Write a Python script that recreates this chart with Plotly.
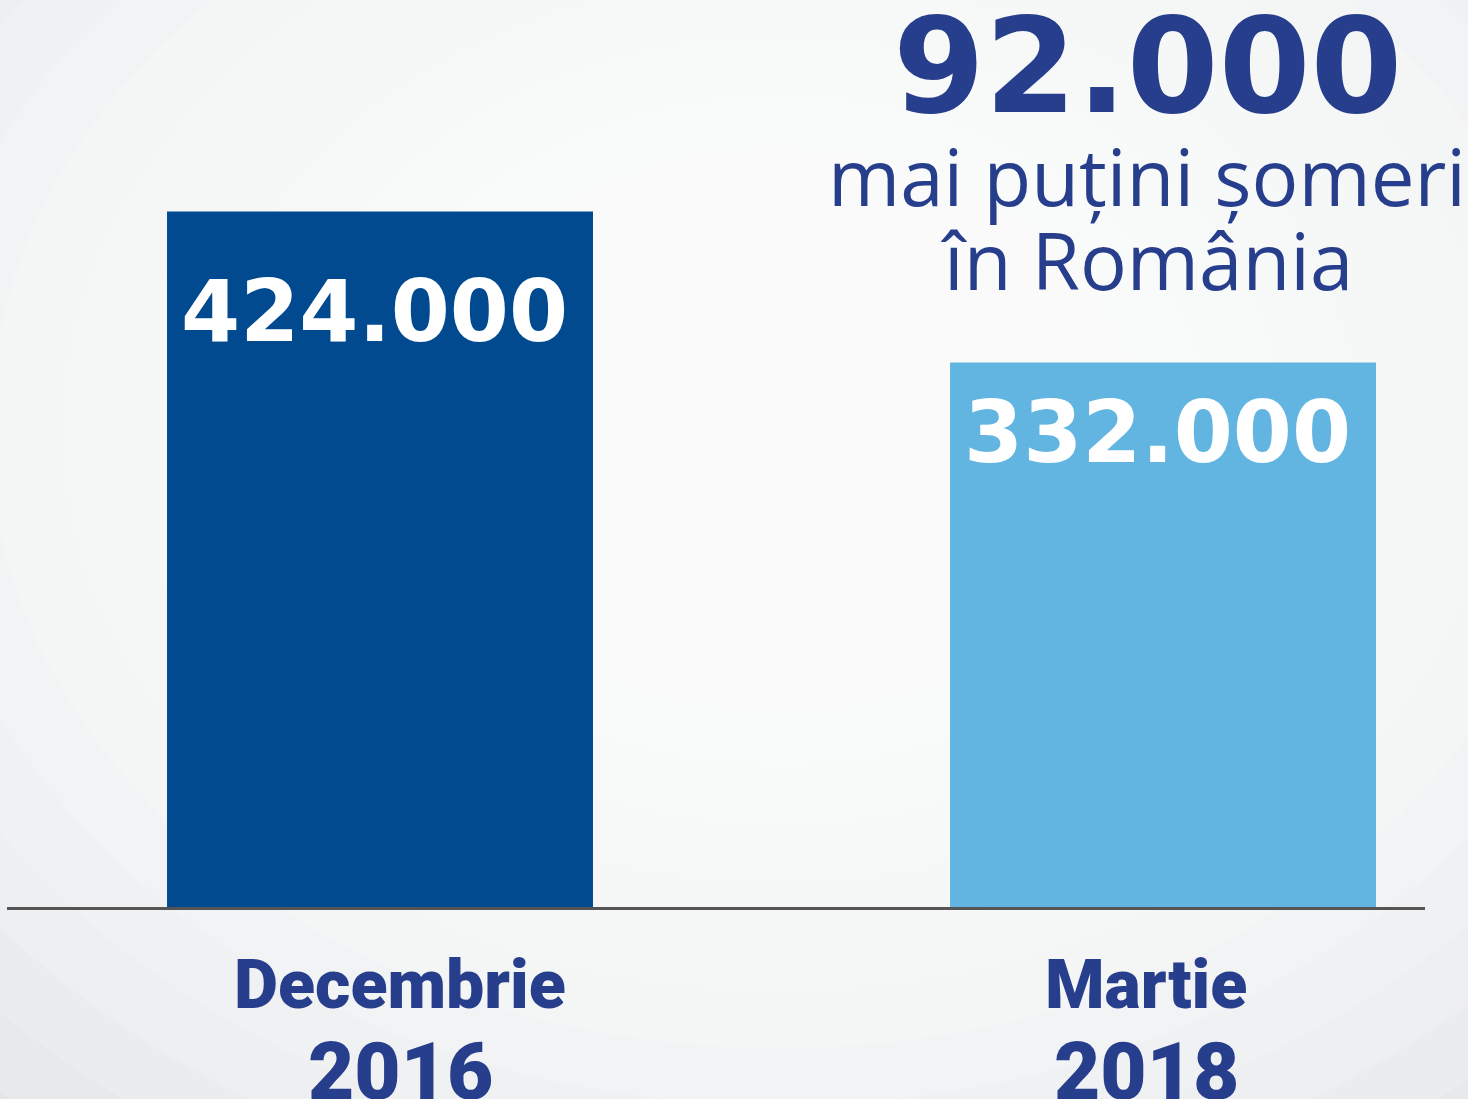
import plotly.graph_objects as go

# data
months = ["Decembrie", "Martie"]
years = ["2016", "2018"]
unemployed = [424000, 332000]
bar_colors = ["#024a8f", "#62b5e0"]
headline_lines = ["mai puțini șomeri", "în România"]

NAVY = "#263e8c"
W, H = 1468, 1099
PLOT_BOTTOM = 907  # px from top where the baseline sits


def fmt(v):
    return f"{v:,}".replace(",", ".")


def py(px_from_top):
    # convert pixel row to paper y (plot area spans 0..PLOT_BOTTOM)
    return 1 - px_from_top / PLOT_BOTTOM


categories = [f"{m} {y}" for m, y in zip(months, years)]

fig = go.Figure(go.Bar(
    x=categories, y=unemployed,
    marker=dict(color=bar_colors, line=dict(width=0)),
    width=0.544, hoverinfo="skip",
))

# soft radial background
shapes = []
cx, cy = 780, 430
n = 16
for i in range(n):
    f = 1 - i / n
    rx, ry = 1150 * f, 900 * f
    shapes.append(dict(
        type="circle", xref="paper", yref="paper", layer="below",
        x0=(cx - rx) / W, x1=(cx + rx) / W,
        y0=py(cy + ry), y1=py(cy - ry),
        fillcolor="rgba(255,255,255,0.16)", line=dict(width=0),
    ))

annotations = []
heavy = "DejaVu Sans"
label_font = "Roboto"
# value labels inside bars
value_shift = [-48, -19]
for c, v, s in zip(categories, unemployed, value_shift):
    annotations.append(dict(
        x=c, y=v, xref="x", yref="y", text=fmt(v), showarrow=False,
        xanchor="center", yanchor="top", yshift=s, xshift=-6,
        font=dict(family=heavy, size=85, color="white", weight="bold"),
    ))

# month / year labels under the axis
label_shift = [20, -17]
for c, m, yr, s in zip(categories, months, years, label_shift):
    annotations.append(dict(
        x=c, y=py(985), xref="x", yref="paper", text=m, showarrow=False,
        xshift=s, xanchor="center", yanchor="middle",
        font=dict(family=label_font, size=68, color=NAVY, weight=900),
    ))
    annotations.append(dict(
        x=c, y=py(1072), xref="x", yref="paper", text=yr, showarrow=False,
        xshift=s, xanchor="center", yanchor="middle",
        font=dict(family=label_font, size=80, color=NAVY, weight=900),
    ))

# headline: difference between the two months
hx = 1147 / W
annotations.append(dict(
    x=hx, y=py(66), xref="paper", yref="paper",
    text=fmt(unemployed[0] - unemployed[1]), showarrow=False,
    xanchor="center", yanchor="middle",
    font=dict(family=heavy, size=132, color=NAVY, weight="bold"),
))
for line, ypx in zip(headline_lines, [176, 260]):
    annotations.append(dict(
        x=hx, y=py(ypx), xref="paper", yref="paper", text=line,
        showarrow=False, xanchor="center", yanchor="middle",
        font=dict(family="Open Sans", size=78, color=NAVY),
    ))

x0, x1 = 7, 1425
unit = 783
xmin = -(380 - x0) / unit
xmax = xmin + (x1 - x0) / unit

fig.update_layout(
    width=W, height=H,
    margin=dict(l=0, r=0, t=0, b=H - PLOT_BOTTOM),
    paper_bgcolor="#e3e5e8", plot_bgcolor="rgba(0,0,0,0)",
    showlegend=False,
    shapes=shapes, annotations=annotations,
    xaxis=dict(domain=[x0 / W, x1 / W], range=[xmin, xmax],
               showticklabels=False, showgrid=False, zeroline=False,
               showline=True, linecolor="#555555", linewidth=3, ticks=""),
    yaxis=dict(range=[0, 553000], visible=False),
)

fig.write_html("out.html", config={"displayModeBar": False},
               post_script="document.body.style.margin='0';")
